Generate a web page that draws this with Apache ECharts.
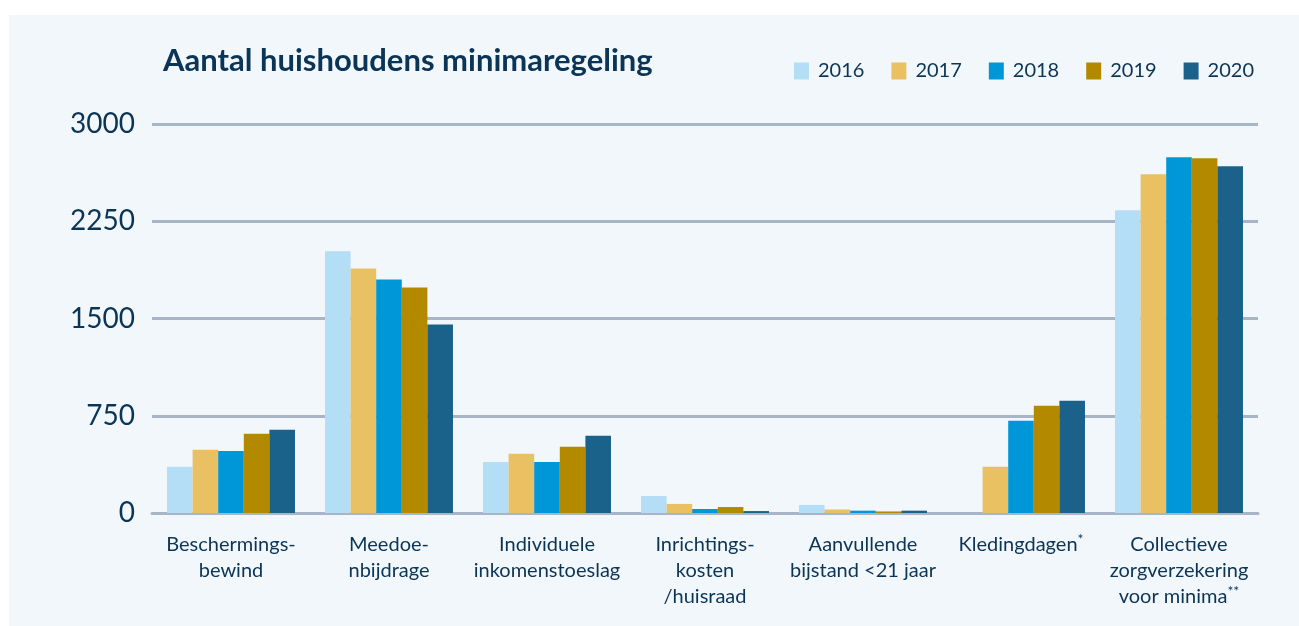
<!DOCTYPE html>
<html>
<head>
<meta charset="utf-8">
<script src="https://cdn.jsdelivr.net/npm/echarts@6/dist/echarts.min.js"></script>
<style>
  html, body { margin: 0; padding: 0; background: #fff; }
  #chart { width: 1299px; height: 626px; }
</style>
</head>
<body>
<div id="chart"></div>
<script>
// categories along the x axis
const categories = [
  'Beschermings-\nbewind',
  'Meedoe-\nnbijdrage',
  'Individuele\ninkomenstoeslag',
  'Inrichtings-\nkosten\n/huisraad',
  'Aanvullende\nbijstand <21 jaar',
  'Kledingdagen{sup|*}',
  'Collectieve\nzorgverzekering\nvoor minima{sup|**}'
]

const years = ['2016', '2017', '2018', '2019', '2020']
const yearColors = ['#b3def5', '#e9c062', '#0097d9', '#b38900', '#1b628b']

// values per year
const v2016 = [356, 2018, 394, 131, 62, 0, 2334]
const v2017 = [487, 1886, 456, 70, 27, 356, 2613]
const v2018 = [479, 1801, 394, 31, 18, 711, 2744]
const v2019 = [611, 1739, 510, 46, 12, 827, 2736]
const v2020 = [642, 1453, 595, 15, 18, 866, 2675]
const seriesValues = [v2016, v2017, v2018, v2019, v2020]

const textColor = '#0b3556'
const lineColor = '#a8b5c7'
const font = 'Lato'

const chart = echarts.init(document.getElementById('chart'))

const option = {
  backgroundColor: '#ffffff',
  textStyle: { fontFamily: font },
  graphic: [{
    type: 'rect',
    z: -10,
    shape: { x: 9, y: 15, width: 1290, height: 611 },
    style: { fill: '#f2f7fc' }
  }],
  title: {
    text: 'Aantal huishoudens minimaregeling',
    left: 158,
    top: 40,
    textStyle: { color: textColor, fontSize: 31, fontWeight: 'bold', fontFamily: font }
  },
  legend: {
    right: 40,
    top: 56,
    itemWidth: 15,
    itemHeight: 17,
    itemGap: 27,
    icon: 'rect',
    textStyle: { color: textColor, fontSize: 20, fontFamily: font, padding: [0, 0, 0, 4] },
    data: years
  },
  grid: {
    left: 152,
    right: 41,
    top: 124,
    bottom: 113,
    containLabel: false
  },
  xAxis: {
    type: 'category',
    data: categories,
    axisLine: { lineStyle: { color: lineColor, width: 3 } },
    axisTick: { show: false },
    axisLabel: {
      color: textColor,
      fontSize: 20,
      lineHeight: 26,
      margin: 19,
      interval: 0,
      rich: {
        sup: { fontSize: 14, color: textColor, verticalAlign: 'top', lineHeight: 26, padding: [0, 0, 8, 0] }
      }
    }
  },
  yAxis: {
    type: 'value',
    min: 0,
    max: 3000,
    interval: 750,
    axisLine: { show: false },
    axisTick: { show: false },
    axisLabel: {
      color: textColor,
      fontSize: 28,
      margin: 17,
      padding: [10, 0, 0, 0],
      formatter: (val) => String(val)
    },
    splitLine: { lineStyle: { color: lineColor, width: 3 } }
  },
  series: years.map((y, i) => ({
    name: y,
    type: 'bar',
    data: seriesValues[i],
    barGap: '0%',
    barCategoryGap: '19%',
    itemStyle: { color: yearColors[i] }
  }))
}

chart.setOption(option)
</script>
</body>
</html>
